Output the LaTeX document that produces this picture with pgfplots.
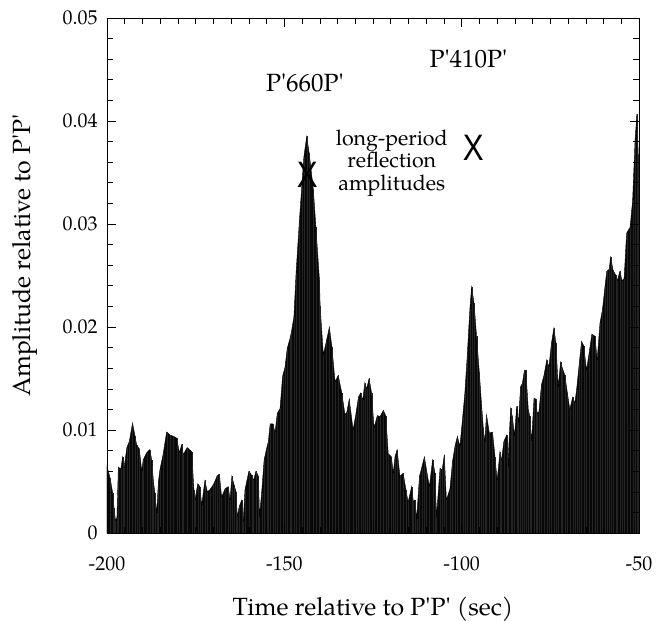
\documentclass[border=0pt]{standalone}
\usepackage{pgfplots}
\pgfplotsset{compat=1.18}
\usepackage{graphicx}
\usepackage{fontspec}
\setmainfont{TeX Gyre Pagella}
\newfontfamily\xfont{Liberation Sans}
\newcommand{\q}{\textquotesingle}

\pgfplotstableread{
t y
-200.0 0.0065
-199.1 0.0053
-198.4 0.0039
-198.0 0.0024
-197.6 0.0012
-197.2 0.0015
-196.8 0.0064
-196.1 0.0062
-195.6 0.0074
-195.2 0.0063
-194.4 0.0083
-193.7 0.0089
-192.8 0.0107
-192.1 0.0094
-191.6 0.0085
-190.9 0.0082
-190.2 0.0060
-189.8 0.0071
-188.8 0.0078
-187.9 0.0081
-187.4 0.0071
-186.9 0.0050
-186.5 0.0039
-186.0 0.0019
-185.5 0.0050
-185.1 0.0061
-184.1 0.0078
-183.2 0.0098
-182.2 0.0095
-181.3 0.0094
-180.3 0.0092
-179.6 0.0078
-178.9 0.0086
-178.5 0.0076
-177.4 0.0083
-176.1 0.0079
-175.5 0.0042
-175.2 0.0032
-174.4 0.0048
-173.8 0.0045
-173.3 0.0027
-172.4 0.0051
-171.7 0.0040
-171.0 0.0042
-170.0 0.0047
-169.6 0.0050
-168.9 0.0056
-168.3 0.0057
-167.7 0.0035
-166.7 0.0043
-165.8 0.0045
-165.3 0.0032
-164.8 0.0055
-164.2 0.0047
-163.6 0.0040
-163.3 0.0016
-162.7 0.0026
-162.0 0.0032
-161.6 0.0011
-161.1 0.0042
-160.0 0.0060
-159.2 0.0056
-158.7 0.0051
-158.0 0.0060
-157.3 0.0055
-157.0 0.0016
-156.4 0.0039
-155.7 0.0071
-155.0 0.0082
-154.5 0.0089
-154.0 0.0106
-153.3 0.0106
-152.6 0.0098
-152.0 0.0116
-151.2 0.0121
-150.5 0.0152
-149.8 0.0161
-149.2 0.0179
-148.4 0.0189
-148.0 0.0195
-147.3 0.0210
-146.7 0.0252
-145.8 0.0301
-145.1 0.0336
-144.5 0.0365
-143.7 0.0385
-143.0 0.0369
-141.8 0.0333
-141.1 0.0297
-140.1 0.0246
-139.9 0.0220
-139.0 0.0173
-138.1 0.0187
-137.3 0.0200
-136.6 0.0181
-135.7 0.0147
-134.8 0.0153
-133.8 0.0136
-132.9 0.0115
-132.4 0.0117
-131.7 0.0130
-130.6 0.0100
-129.8 0.0116
-129.1 0.0132
-128.5 0.0136
-127.9 0.0129
-127.3 0.0146
-126.8 0.0140
-126.1 0.0150
-125.4 0.0136
-124.7 0.0102
-123.8 0.0114
-123.0 0.0113
-122.1 0.0119
-121.4 0.0114
-120.7 0.0077
-119.8 0.0074
-119.3 0.0058
-118.8 0.0074
-118.2 0.0081
-117.4 0.0055
-116.5 0.0058
-115.7 0.0042
-115.1 0.0030
-114.1 0.0045
-113.6 0.0030
-113.2 0.0032
-112.7 0.0014
-111.9 0.0055
-111.3 0.0063
-110.5 0.0074
-109.9 0.0061
-109.1 0.0045
-108.2 0.0071
-107.5 0.0058
-107.1 0.0016
-106.1 0.0063
-105.5 0.0061
-104.9 0.0076
-104.3 0.0032
-103.3 0.0043
-102.6 0.0069
-101.9 0.0084
-101.2 0.0094
-100.5 0.0084
-99.7 0.0113
-99.1 0.0136
-98.4 0.0174
-97.7 0.0217
-97.2 0.0239
-96.5 0.0223
-95.8 0.0191
-95.0 0.0155
-94.4 0.0125
-93.9 0.0102
-93.5 0.0088
-93.0 0.0115
-92.2 0.0097
-91.3 0.0098
-90.6 0.0074
-90.0 0.0051
-89.2 0.0079
-88.8 0.0070
-88.1 0.0089
-87.3 0.0095
-87.0 0.0064
-86.2 0.0121
-85.7 0.0113
-85.1 0.0094
-84.5 0.0123
-84.0 0.0107
-83.4 0.0142
-82.9 0.0145
-82.3 0.0158
-81.9 0.0158
-81.2 0.0119
-80.8 0.0114
-80.3 0.0089
-79.6 0.0131
-79.1 0.0130
-78.7 0.0116
-78.2 0.0118
-77.5 0.0144
-76.8 0.0153
-76.0 0.0168
-75.4 0.0161
-74.7 0.0184
-74.0 0.0199
-73.4 0.0184
-72.8 0.0142
-72.1 0.0166
-71.6 0.0160
-70.9 0.0153
-70.2 0.0136
-69.5 0.0120
-68.7 0.0132
-68.1 0.0126
-67.6 0.0139
-66.8 0.0166
-66.2 0.0186
-65.6 0.0182
-64.8 0.0158
-64.1 0.0174
-63.3 0.0193
-62.4 0.0191
-61.8 0.0168
-61.0 0.0204
-60.3 0.0217
-59.6 0.0239
-59.1 0.0254
-58.4 0.0256
-58.0 0.0268
-57.3 0.0255
-56.5 0.0250
-56.1 0.0245
-55.4 0.0254
-54.8 0.0245
-54.2 0.0247
-53.5 0.0291
-52.5 0.0297
-51.8 0.0323
-51.1 0.0382
-50.6 0.0407
-50.2 0.0367
-50.0 0.0367
}\amp

\begin{document}
\begin{tikzpicture}
\begin{axis}[
  scale only axis, width=532bp, height=515bp,
  xmin=-200, xmax=-50, ymin=0, ymax=0.05,
  xtick={-200,-150,-100,-50},
  xticklabels={-200,-150,-100,-50},
  ytick={0,0.01,0.02,0.03,0.04,0.05},
  yticklabels={0,0.01,0.02,0.03,0.04,0.05},
  scaled y ticks=false,
  minor x tick num=9, minor y tick num=4,
  tick align=inside,
  major tick length=9bp, minor tick length=6bp,
  every tick/.style={black, line width=0.6pt},
  axis line style={line width=0.8pt},
  /pgf/number format/assume math mode=true,
  ticklabel style={font=\fontsize{20}{23}\selectfont},
  xticklabel style={yshift=-20bp},
  yticklabel style={xshift=-6bp},
  xlabel={Time relative to P\q P\q\ (sec)},
  ylabel={Amplitude relative to P\q P\q},
  label style={font=\fontsize{25}{29}\selectfont},
  xlabel style={at={(axis description cs:0.5,-0.148)}, anchor=center},
  ylabel style={at={(axis description cs:-0.154,0.539)}, anchor=center},
  axis on top,
]
\coordinate (sw) at (rel axis cs:0,0);
\addplot[fill=black!97, draw=black, line width=0.4pt] table[x=t,y=y] {\amp} \closedcycle;
\addplot[ycomb, draw=black!86, line width=0.12pt, mark=none] table[x=t,y=y] {\amp};
\addplot[only marks, mark=text, text mark={\scalebox{0.95}[1.12]{X}}, text mark as node=true,
  text mark style={font=\xfont\fontsize{33}{33}\selectfont, inner sep=0pt}]
  coordinates {(-143.5,0.0348) (-96.7,0.0374)};
\node[font=\fontsize{25}{28}\selectfont] at (axis cs:-144.2,0.0437) {P\q 660P\q};
\node[font=\fontsize{25}{28}\selectfont] at (axis cs:-98.1,0.0460) {P\q 410P\q};
\node[font=\fontsize{21.5}{22.5}\selectfont, align=center] at (axis cs:-119.7,0.0359)
  {long-period\\reflection\\amplitudes};
\end{axis}
\pgfresetboundingbox
\path[use as bounding box] (sw) ++(-107bp,-88bp) rectangle ++(666bp,621bp);
\end{tikzpicture}
\end{document}
